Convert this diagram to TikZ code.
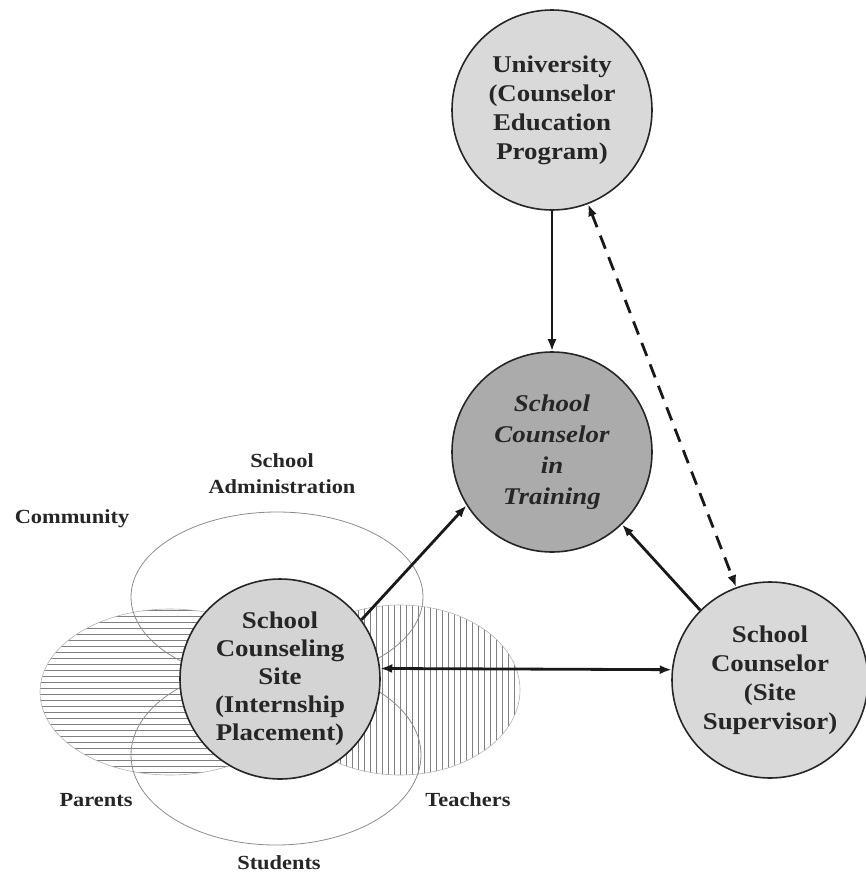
\documentclass[tikz,border=0pt]{standalone}
\usepackage{fontspec}
\setmainfont{Liberation Serif}[FakeStretch=1.12]
\usetikzlibrary{arrows.meta}
\begin{document}
\begin{tikzpicture}[x=1pt,y=-1pt,
  circ/.style={circle,draw=black!85,line width=1.6pt,minimum size=200pt,inner sep=0pt,align=center,
    text=black!85,font=\fontsize{24}{29}\selectfont\bfseries},
  lab/.style={font=\fontsize{20}{26}\selectfont\bfseries,align=center,text=black!85,inner sep=0pt},
  arr/.style={line width=2.8pt,draw=black!90,-{Latex[length=12pt,width=9pt]}},
  dbl/.style={line width=2.8pt,draw=black!90,{Latex[length=12pt,width=9pt]}-{Latex[length=12pt,width=9pt]}},
  ring/.style={draw=black!45,line width=0.8pt},
  hatch/.style={draw=black!50,line width=0.9pt},
  hedge/.style={draw=black!30,line width=0.6pt}
]
\useasboundingbox (0,0) rectangle (866,878);

% Parents (horizontal hatching)
\begin{scope}
  \clip (170,692) ellipse [x radius=130, y radius=83];
  \foreach \yy in {610,616,...,776} \draw[hatch] (30,\yy) -- (310,\yy);
\end{scope}
\draw[hedge] (170,692) ellipse [x radius=130, y radius=83];

% Teachers (vertical hatching)
\begin{scope}
  \clip (400,690) ellipse [x radius=120, y radius=85];
  \foreach \xx in {280,286,...,522} \draw[hatch] (\xx,600) -- (\xx,780);
\end{scope}
\draw[hedge] (400,690) ellipse [x radius=120, y radius=85];

% School Administration and Students outlines
\draw[ring] (277,597) ellipse [x radius=146, y radius=85];
\draw[ring] (276,755) ellipse [x radius=145, y radius=90];

% Circles
\node[circ,fill=black!15] (univ) at (552,110) {University\\(Counselor\\Education\\Program)};
\node[circ,fill=black!33,font=\fontsize{24}{31}\selectfont\bfseries\itshape] (trn) at (552,452) {School\\Counselor\\in\\Training};
\node[circ,fill=black!15,minimum size=196pt] (sup) at (770,680) {School\\Counselor\\(Site\\Supervisor)};
\node[circ,fill=black!17,font=\fontsize{24}{28}\selectfont\bfseries] (site) at (280,679) {School\\Counseling\\Site\\(Internship\\Placement)};

% Labels
\node[lab] (admin) at (282,474) {School\\Administration};
\node[lab] (comm) at (72,519) {Community};
\node[lab] (par) at (96,800) {Parents};
\node[lab] (tea) at (468,800) {Teachers};
\node[lab] (stu) at (279,863) {Students};

% Connectors
\draw[arr] (univ) -- (trn);
\draw[dbl,dash pattern=on 14pt off 9pt] (univ.-69) -- (sup.110);
\draw[arr] (site.36) -- (trn.212);
\draw[arr] (sup.135) -- (trn.-46);
\draw[dbl] (site.6) -- (sup.174);
\end{tikzpicture}
\end{document}
